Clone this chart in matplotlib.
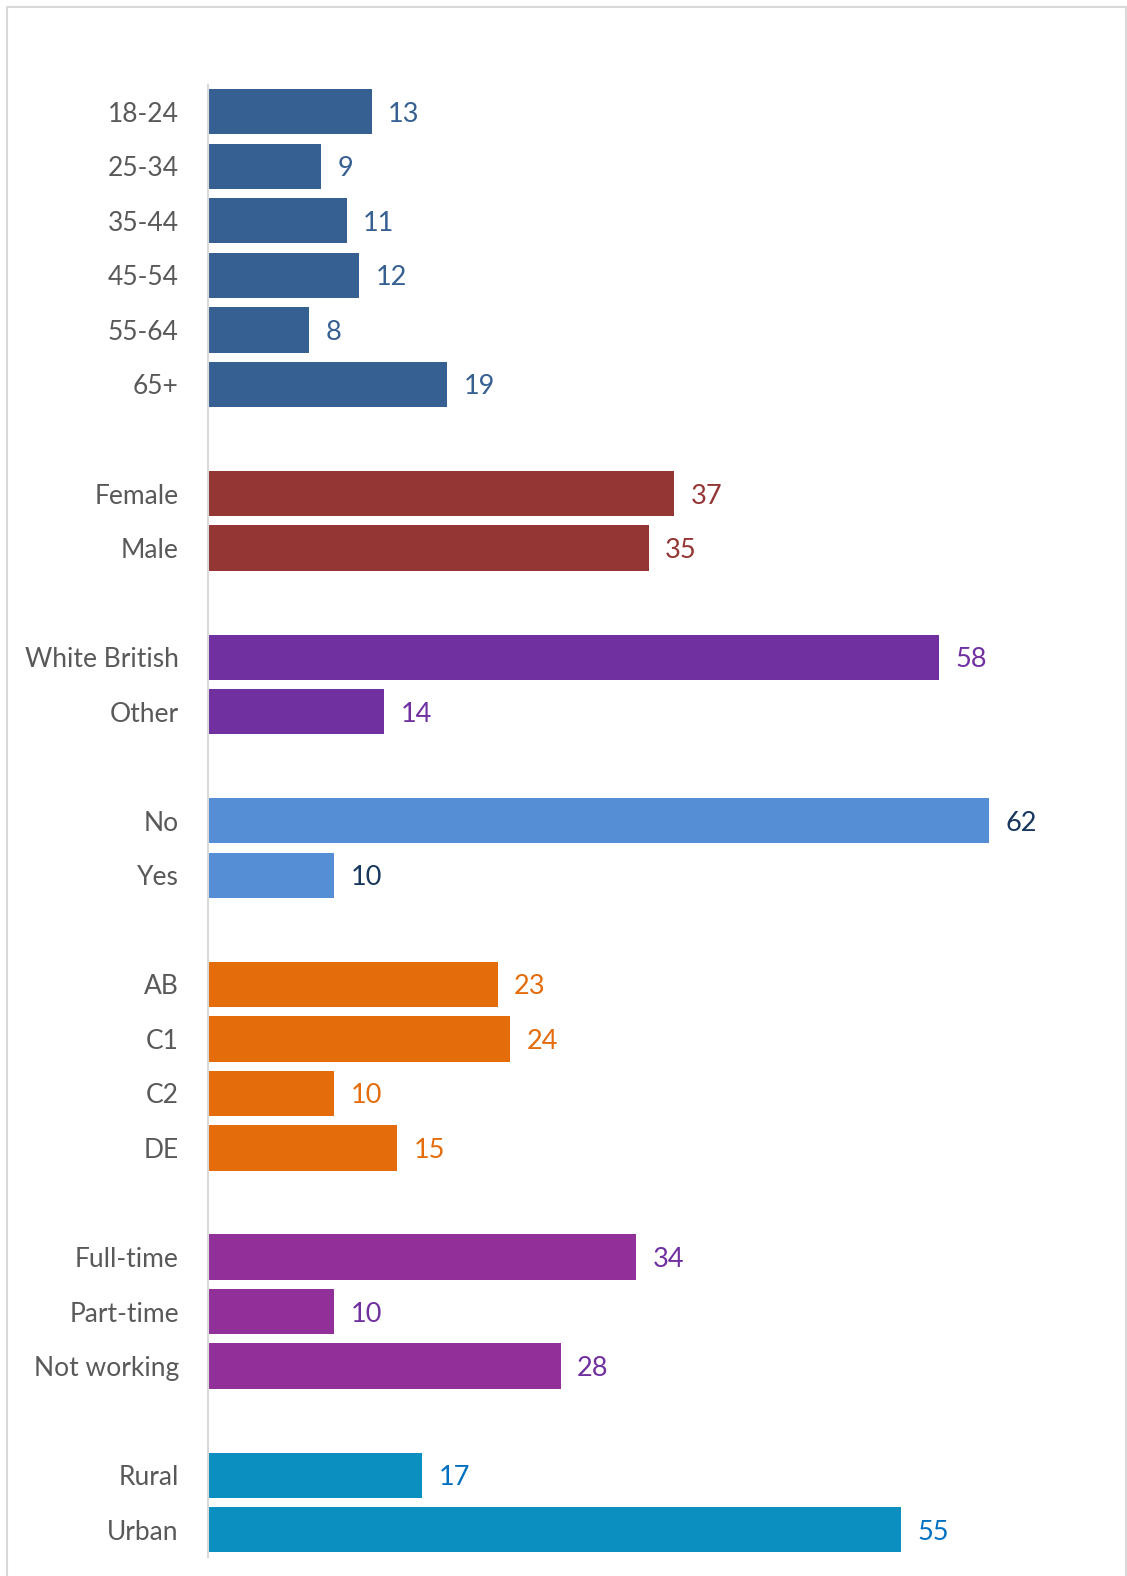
import matplotlib
matplotlib.use("Agg")
import matplotlib.pyplot as plt
from matplotlib.patches import Rectangle

# data, grouped as in the original chart (top to bottom)
age_labels = ["18-24", "25-34", "35-44", "45-54", "55-64", "65+"]
age_values = [13, 9, 11, 12, 8, 19]
gender_labels = ["Female", "Male"]
gender_values = [37, 35]
ethnic_labels = ["White British", "Other"]
ethnic_values = [58, 14]
disab_labels = ["No", "Yes"]
disab_values = [62, 10]
seg_labels = ["AB", "C1", "C2", "DE"]
seg_values = [23, 24, 10, 15]
work_labels = ["Full-time", "Part-time", "Not working"]
work_values = [34, 10, 28]
area_labels = ["Rural", "Urban"]
area_values = [17, 55]

groups = [
    (age_labels, age_values, "#376092", "#376092"),
    (gender_labels, gender_values, "#943634", "#943634"),
    (ethnic_labels, ethnic_values, "#7030A0", "#7030A0"),
    (disab_labels, disab_values, "#558ED5", "#17375E"),
    (seg_labels, seg_values, "#E46C0A", "#E46C0A"),
    (work_labels, work_values, "#92309A", "#7030A0"),
    (area_labels, area_values, "#0A8FC0", "#0070C0"),
]

plt.rcParams["font.family"] = ["Lato", "DejaVu Sans"]

W, H = 1127, 1576
fig = plt.figure(figsize=(W / 100, H / 100), dpi=100)

# light frame around the chart area (bottom edge cut off)
fig.patches.append(Rectangle((7 / W, -0.05), (1126 - 7) / W, 1 - 7 / H + 0.05,
                             transform=fig.transFigure, fill=False,
                             edgecolor="#D9D9D9", linewidth=1.5))

ax = fig.add_axes([208 / W, 1 - 1557 / H, (1115 - 208) / W, (1557 - 84.5) / H])

pos = 0
ticks, tick_labels = [], []
for labels, values, bar_col, txt_col in groups:
    for lab, v in zip(labels, values):
        ax.barh(pos, v, height=0.83, color=bar_col)
        ax.text(v + 1.3, pos, str(v), va="center_baseline", ha="left",
                fontsize=19.5, color=txt_col)
        ticks.append(pos)
        tick_labels.append(lab)
        pos += 1
    pos += 1  # empty slot between groups
total = pos - 1

ax.set_ylim(total - 0.5, -0.5)
ax.set_xlim(0, 72)
ax.set_yticks(ticks)
ax.set_yticklabels(tick_labels, fontsize=19, color="#595959", va="center_baseline")
ax.tick_params(axis="y", length=0, pad=21)
ax.set_xticks([])
for s in ["top", "right", "bottom"]:
    ax.spines[s].set_visible(False)
ax.spines["left"].set_color("#D9D9D9")
ax.spines["left"].set_linewidth(1.5)

fig.savefig("out.png", dpi=100)
